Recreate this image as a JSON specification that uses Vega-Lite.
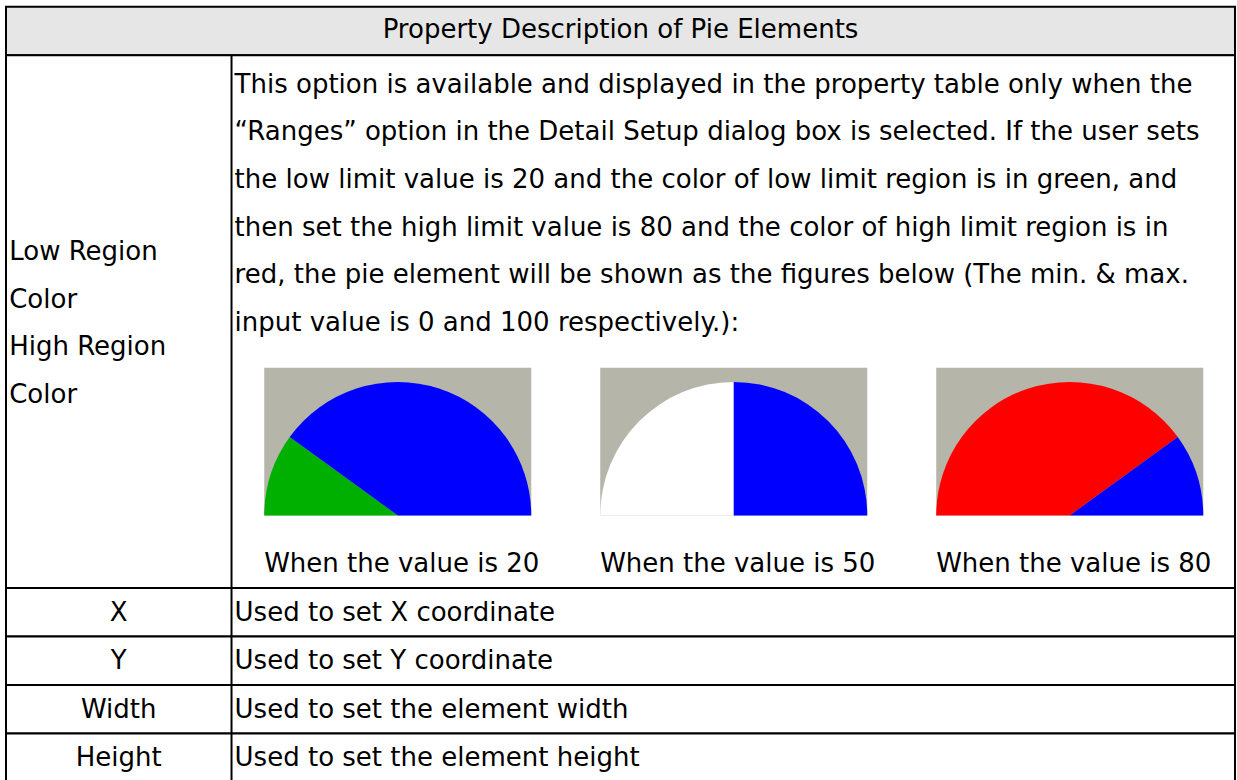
{
  "$schema": "https://vega.github.io/schema/vega-lite/v6.json",
  "width": 1229,
  "height": 774,
  "autosize": {"type": "none"},
  "padding": {"left": 6, "top": 6, "right": 2, "bottom": 0},
  "background": "white",
  "config": {
    "view": {"stroke": null},
    "text": {"font": "DejaVu Sans", "fontSize": 26, "color": "black", "baseline": "alphabetic"}
  },
  "datasets": {
    "rows": [
      {"order": 1, "section": "header", "lines": 1, "row": "", "text": "Property Description of Pie Elements"},
      {"order": 2, "section": "body", "lines": 11, "row": "Low Region Color / High Region Color", "text": ""},
      {"order": 3, "section": "body", "lines": 1, "row": "X", "text": "Used to set X coordinate"},
      {"order": 4, "section": "body", "lines": 1, "row": "Y", "text": "Used to set Y coordinate"},
      {"order": 5, "section": "body", "lines": 1, "row": "Width", "text": "Used to set the element width"},
      {"order": 6, "section": "body", "lines": 1, "row": "Height", "text": "Used to set the element height"}
    ],
    "propertyLines": [
      {"line": 1, "text": "Low Region"},
      {"line": 2, "text": "Color"},
      {"line": 3, "text": "High Region"},
      {"line": 4, "text": "Color"}
    ],
    "descriptionLines": [
      {"line": 1, "text": "This option is available and displayed in the property table only when the"},
      {"line": 2, "text": "“Ranges” option in the Detail Setup dialog box is selected. If the user sets"},
      {"line": 3, "text": "the low limit value is 20 and the color of low limit region is in green, and"},
      {"line": 4, "text": "then set the high limit value is 80 and the color of high limit region is in"},
      {"line": 5, "text": "red, the pie element will be shown as the figures below (The min. & max."},
      {"line": 6, "text": "input value is 0 and 100 respectively.):"}
    ],
    "gauges": [
      {"reading": 20, "caption": "When the value is 20"},
      {"reading": 50, "caption": "When the value is 50"},
      {"reading": 80, "caption": "When the value is 80"}
    ],
    "regions": [
      {"reading": 20, "region": "Low region", "from": 0, "to": 20},
      {"reading": 20, "region": "Remaining", "from": 20, "to": 100},
      {"reading": 50, "region": "Normal", "from": 0, "to": 50},
      {"reading": 50, "region": "Remaining", "from": 50, "to": 100},
      {"reading": 80, "region": "High region", "from": 0, "to": 80},
      {"reading": 80, "region": "Remaining", "from": 80, "to": 100}
    ]
  },
  "layer": [
    {
      "data": {"name": "rows"},
      "transform": [
        {"stack": "lines", "groupby": [], "sort": [{"field": "order", "order": "ascending"}], "as": ["top", "bottom"]}
      ],
      "mark": {"type": "rect", "stroke": "black", "strokeWidth": 2},
      "encoding": {
        "y": {"field": "top", "type": "quantitative", "scale": {"domain": [0, 16], "range": [0.7, 775.9], "nice": false, "zero": false}, "axis": null},
        "y2": {"field": "bottom"},
        "fill": {"field": "section", "type": "nominal", "scale": {"domain": ["header", "body"], "range": ["#E6E6E6", "#FFFFFF"]}, "legend": null}
      }
    },
    {
      "data": {"name": "rows"},
      "transform": [
        {"stack": "lines", "groupby": [], "sort": [{"field": "order", "order": "ascending"}], "as": ["top", "bottom"]},
        {"filter": "datum.order > 1"}
      ],
      "mark": {"type": "rule", "stroke": "black", "strokeWidth": 2},
      "encoding": {
        "x": {"datum": 18.35, "type": "quantitative", "scale": {"domain": [0, 100], "range": [0, 1229], "nice": false, "zero": false}, "axis": null},
        "y": {"field": "top", "type": "quantitative", "scale": {"domain": [0, 16], "range": [0.7, 775.9], "nice": false, "zero": false}, "axis": null},
        "y2": {"field": "bottom"}
      }
    },
    {
      "data": {"name": "rows"},
      "transform": [
        {"stack": "lines", "groupby": [], "sort": [{"field": "order", "order": "ascending"}], "as": ["top", "bottom"]},
        {"filter": "datum.order == 1"}
      ],
      "mark": {"type": "text", "align": "center", "dy": 31},
      "encoding": {
        "y": {"field": "top", "type": "quantitative", "scale": {"domain": [0, 16], "range": [0.7, 775.9], "nice": false, "zero": false}, "axis": null},
        "text": {"field": "text"}
      }
    },
    {
      "data": {"name": "rows"},
      "transform": [
        {"stack": "lines", "groupby": [], "sort": [{"field": "order", "order": "ascending"}], "as": ["top", "bottom"]},
        {"filter": "datum.order >= 3"}
      ],
      "mark": {"type": "text", "align": "center", "dy": 32.5},
      "encoding": {
        "x": {"datum": 9.17, "type": "quantitative", "scale": {"domain": [0, 100], "range": [0, 1229], "nice": false, "zero": false}, "axis": null},
        "y": {"field": "top", "type": "quantitative", "scale": {"domain": [0, 16], "range": [0.7, 775.9], "nice": false, "zero": false}, "axis": null},
        "text": {"field": "row"}
      }
    },
    {
      "data": {"name": "rows"},
      "transform": [
        {"stack": "lines", "groupby": [], "sort": [{"field": "order", "order": "ascending"}], "as": ["top", "bottom"]},
        {"filter": "datum.order >= 3"}
      ],
      "mark": {"type": "text", "align": "left", "dy": 32.5},
      "encoding": {
        "x": {"datum": 18.6, "type": "quantitative", "scale": {"domain": [0, 100], "range": [0, 1229], "nice": false, "zero": false}, "axis": null},
        "y": {"field": "top", "type": "quantitative", "scale": {"domain": [0, 16], "range": [0.7, 775.9], "nice": false, "zero": false}, "axis": null},
        "text": {"field": "text"}
      }
    },
    {
      "data": {"name": "propertyLines"},
      "mark": {"type": "text", "align": "left"},
      "encoding": {
        "x": {"datum": 0.26, "type": "quantitative", "scale": {"domain": [0, 100], "range": [0, 1229], "nice": false, "zero": false}, "axis": null},
        "y": {"field": "line", "type": "quantitative", "scale": {"domain": [1, 4], "range": [254, 397], "nice": false, "zero": false}, "axis": null},
        "text": {"field": "text"}
      }
    },
    {
      "data": {"name": "descriptionLines"},
      "mark": {"type": "text", "align": "left"},
      "encoding": {
        "x": {"datum": 18.6, "type": "quantitative", "scale": {"domain": [0, 100], "range": [0, 1229], "nice": false, "zero": false}, "axis": null},
        "y": {"field": "line", "type": "quantitative", "scale": {"domain": [1, 6], "range": [86.5, 325], "nice": false, "zero": false}, "axis": null},
        "text": {"field": "text"}
      }
    },
    {
      "data": {"name": "gauges"},
      "mark": {"type": "bar", "orient": "vertical", "width": 267, "fill": "#B6B5AA"},
      "encoding": {
        "x": {"field": "reading", "type": "quantitative", "stack": null, "scale": {"domain": [20, 80], "range": [391.75, 1063.75], "nice": false, "zero": false, "padding": 0}, "axis": null},
        "y": {"datum": 10.5, "type": "quantitative", "stack": null, "scale": {"domain": [0, 16], "range": [0.7, 775.9], "nice": false, "zero": false, "padding": 0}, "axis": null},
        "y2": {"datum": 7.45}
      }
    },
    {
      "data": {"name": "regions"},
      "mark": {"type": "arc", "radius": 133.5},
      "encoding": {
        "x": {"field": "reading", "type": "quantitative", "stack": null, "scale": {"domain": [20, 80], "range": [391.75, 1063.75], "nice": false, "zero": false}, "axis": null},
        "y": {"datum": 10.5, "type": "quantitative", "stack": null, "scale": {"domain": [0, 16], "range": [0.7, 775.9], "nice": false, "zero": false}, "axis": null},
        "theta": {"field": "from", "type": "quantitative", "stack": null, "scale": {"domain": [0, 100], "range": [-1.5707963, 1.5707963]}},
        "theta2": {"field": "to"},
        "color": {"field": "region", "type": "nominal", "scale": {"domain": ["Low region", "Normal", "High region", "Remaining"], "range": ["#00B000", "#FFFFFF", "#FF0000", "#0000FF"]}, "legend": null}
      }
    },
    {
      "data": {"name": "gauges"},
      "mark": {"type": "text", "align": "center", "dx": 4, "dy": 32},
      "encoding": {
        "x": {"field": "reading", "type": "quantitative", "scale": {"domain": [20, 80], "range": [391.75, 1063.75], "nice": false, "zero": false}, "axis": null},
        "y": {"datum": 11, "type": "quantitative", "scale": {"domain": [0, 16], "range": [0.7, 775.9], "nice": false, "zero": false}, "axis": null},
        "text": {"field": "caption"}
      }
    }
  ],
  "resolve": {"scale": {"x": "independent", "y": "independent", "color": "independent", "fill": "independent", "theta": "independent"}}
}
